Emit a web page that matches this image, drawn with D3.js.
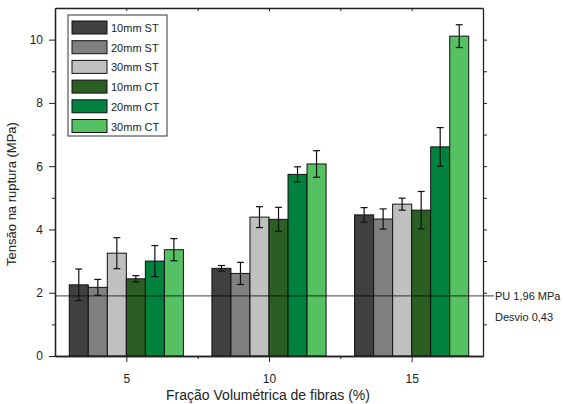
<!DOCTYPE html>
<html>
<head>
<meta charset="utf-8">
<script src="https://cdnjs.cloudflare.com/ajax/libs/d3/7.8.5/d3.min.js"></script>
<style>
  body { margin: 0; background: #fff; }
  text { font-family: "Liberation Sans", Arial, sans-serif; fill: #222; }
</style>
</head>
<body>
<div id="chart"></div>
<script>
// data
var fractions = [5, 10, 15];
var seriesNames = ["10mm ST", "20mm ST", "30mm ST", "10mm CT", "20mm CT", "30mm CT"];
var seriesColors = ["#404040", "#808080", "#c0c0c0", "#2a5e23", "#00823f", "#56c163"];
var means = [
  [2.25, 2.17, 3.25, 2.44, 3.00, 3.36],   // 5 %
  [2.77, 2.61, 4.39, 4.32, 5.74, 6.07],   // 10 %
  [4.46, 4.33, 4.80, 4.61, 6.61, 10.11]   // 15 %
];
var errors = [
  [0.50, 0.25, 0.49, 0.10, 0.49, 0.35],
  [0.09, 0.35, 0.33, 0.38, 0.24, 0.42],
  [0.23, 0.32, 0.19, 0.59, 0.61, 0.36]
];
var refValue = 1.9;
var refLabels = ["PU 1,96 MPa", "Desvio 0,43"];
var yTicks = [0, 2, 4, 6, 8, 10];

var margin = {top: 8, right: 80, bottom: 48, left: 55},
    width = 563 - margin.left - margin.right,
    height = 404 - margin.top - margin.bottom;

var svg = d3.select("#chart").append("svg")
    .attr("width", 563).attr("height", 404)
  .append("g")
    .attr("transform", "translate(" + margin.left + "," + margin.top + ")");

var x = d3.scaleLinear().domain([2.5, 17.5]).range([0, width]);
var y = d3.scaleLinear().domain([0, 11]).range([height, 0]);

// 6 bars in a group spanning 4 units centred on the fraction
var groupWidth = 4, barW = groupWidth / seriesNames.length;

var rows = [];
fractions.forEach(function(f, i) {
  seriesNames.forEach(function(s, j) {
    rows.push({f: f, j: j, v: means[i][j], e: errors[i][j]});
  });
});

svg.selectAll("rect.bar").data(rows).join("rect")
    .attr("class", "bar")
    .attr("x", d => x(d.f - groupWidth / 2 + d.j * barW))
    .attr("width", d => x(barW) - x(0))
    .attr("y", d => y(d.v))
    .attr("height", d => y(0) - y(d.v))
    .attr("fill", d => seriesColors[d.j])
    .attr("stroke", "#111")
    .attr("stroke-width", 1);

// error bars
var eb = svg.append("g").attr("stroke", "#111").attr("stroke-width", 1.2);
rows.forEach(function(d) {
  var cx = x(d.f - groupWidth / 2 + (d.j + 0.5) * barW);
  eb.append("line").attr("x1", cx).attr("x2", cx).attr("y1", y(d.v - d.e)).attr("y2", y(d.v + d.e));
  eb.append("line").attr("x1", cx - 3.5).attr("x2", cx + 3.5).attr("y1", y(d.v + d.e)).attr("y2", y(d.v + d.e));
  eb.append("line").attr("x1", cx - 3.5).attr("x2", cx + 3.5).attr("y1", y(d.v - d.e)).attr("y2", y(d.v - d.e));
});

// reference line
svg.append("line")
    .attr("x1", 0).attr("x2", width + 11)
    .attr("y1", y(refValue)).attr("y2", y(refValue))
    .attr("stroke", "#000").attr("stroke-opacity", 0.6).attr("stroke-width", 1.3);
svg.selectAll("text.ref").data(refLabels).join("text")
    .attr("class", "ref")
    .attr("x", width + 12)
    .attr("y", (d, i) => y(refValue) + 4 + i * 21)
    .style("font-size", "11px")
    .text(d => d);

// axes
function styleAxis(g) {
  g.select(".domain").attr("stroke", "#222").attr("stroke-width", 1.3);
  g.selectAll(".tick line").attr("stroke", "#222");
  g.selectAll(".tick text").style("font-size", "12px").attr("fill", "#222");
}

svg.append("g")
    .call(d3.axisLeft(y).tickValues(yTicks).tickSize(6).tickSizeOuter(0).tickPadding(6))
    .call(styleAxis);
svg.append("g")
    .call(d3.axisLeft(y).tickValues([1, 3, 5, 7, 9]).tickSize(3).tickSizeOuter(0).tickFormat(""))
    .call(styleAxis);
svg.append("g")
    .attr("transform", "translate(" + width + ",0)")
    .call(d3.axisRight(y).tickValues(d3.range(1, 11)).tickSize(4).tickSizeOuter(0).tickFormat(""))
    .call(styleAxis);
svg.append("g")
    .attr("transform", "translate(0," + height + ")")
    .call(d3.axisBottom(x).tickValues(fractions).tickSize(6).tickSizeOuter(0).tickPadding(12))
    .call(styleAxis);
svg.append("g")
    .attr("transform", "translate(0," + height + ")")
    .call(d3.axisBottom(x).tickValues([7.5, 12.5]).tickSize(3).tickSizeOuter(0).tickFormat(""))
    .call(styleAxis);
svg.append("g")
    .call(d3.axisTop(x).tickValues([5, 7.5, 10, 12.5, 15]).tickSize(-3).tickSizeOuter(0).tickFormat(""))
    .call(styleAxis);

// axis titles
svg.append("text")
    .attr("transform", "translate(" + (-margin.left + 16) + "," + (height / 2 + 12) + ") rotate(-90)")
    .attr("text-anchor", "middle")
    .style("font-size", "13px")
    .text("Tensão na ruptura (MPa)");
svg.append("text")
    .attr("x", 213).attr("y", height + 44)
    .attr("text-anchor", "middle")
    .style("font-size", "14px")
    .text("Fração Volumétrica de fibras (%)");

// legend
var lg = svg.append("g").attr("transform", "translate(13,7)");
lg.append("rect").attr("width", 99).attr("height", 121)
    .attr("fill", "#fff").attr("stroke", "#333").attr("stroke-width", 1);
var item = lg.selectAll("g.item").data(seriesNames).join("g")
    .attr("class", "item")
    .attr("transform", (d, i) => "translate(4," + (6 + i * 19.7) + ")");
item.append("rect").attr("width", 35).attr("height", 13)
    .attr("fill", (d, i) => seriesColors[i]).attr("stroke", "#111");
item.append("text").attr("x", 39).attr("y", 11)
    .style("font-size", "11px").text(d => d);
</script>
</body>
</html>
